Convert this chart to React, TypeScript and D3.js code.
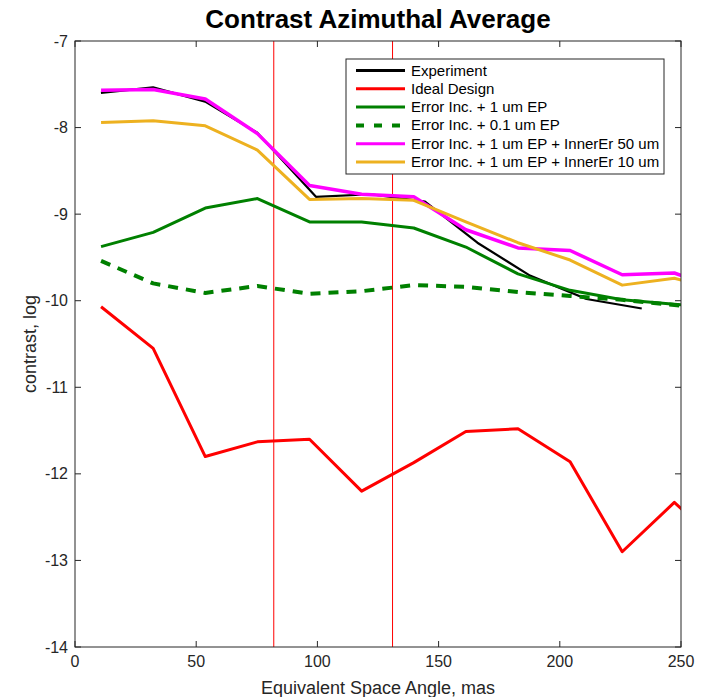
import React from "react";
import * as d3 from "d3";

const xGrid = [10.75, 32.25, 53.75, 75.25, 96.75, 118.25, 139.75, 161.25, 182.75, 204.25, 225.75, 247.25, 268.75];

const experimentX = [10.7, 32.2, 53.7, 75.2, 99.4, 122, 144.4, 166, 187.7, 211, 233.8];
const experimentY = [-7.6, -7.535, -7.7, -8.06, -8.8, -8.77, -8.855, -9.33, -9.71, -9.98, -10.09];

const idealY = [-10.07, -10.55, -11.8, -11.63, -11.6, -12.2, -11.87, -11.51, -11.48, -11.86, -12.9, -12.33, -12.88];
const err1umY = [-9.375, -9.21, -8.93, -8.82, -9.09, -9.09, -9.16, -9.38, -9.69, -9.88, -9.99, -10.04, -10.1];
const err01umY = [-9.54, -9.8, -9.91, -9.83, -9.92, -9.89, -9.82, -9.84, -9.9, -9.945, -9.99, -10.05, -10.1];
const inner50Y = [-7.57, -7.56, -7.67, -8.07, -8.67, -8.77, -8.8, -9.18, -9.39, -9.42, -9.7, -9.68, -9.9];
const inner10Y = [-7.94, -7.92, -7.98, -8.26, -8.83, -8.82, -8.84, -9.09, -9.33, -9.53, -9.82, -9.74, -9.9];

const verticalLines = [82, 131];
const xTicks = [0, 50, 100, 150, 200, 250];
const yTicks = [-7, -8, -9, -10, -11, -12, -13, -14];

const seriesNames = [
  "Experiment",
  "Ideal Design",
  "Error Inc. + 1 um EP",
  "Error Inc. + 0.1 um EP",
  "Error Inc. + 1 um EP + InnerEr 50 um",
  "Error Inc. + 1 um EP + InnerEr 10 um",
];

const W = 706, H = 697;
const L = 75, R = 681, T = 41, B = 647;
const AX = "#262626";
const FONT = "'Liberation Sans', Arial, Helvetica, sans-serif";

export default function App() {
  const x = d3.scaleLinear().domain([0, 250]).range([L, R]);
  const y = d3.scaleLinear().domain([-14, -7]).range([B, T]);
  const line = d3.line<[number, number]>().x((d) => x(d[0])).y((d) => y(d[1]));
  const zip = (xs: number[], ys: number[]) => ys.map((v, i) => [xs[i], v] as [number, number]);

  const series = [
    { name: seriesNames[0], data: zip(experimentX, experimentY), color: "#000000", w: 2.2, dash: undefined as string | undefined },
    { name: seriesNames[1], data: zip(xGrid, idealY), color: "#ff0000", w: 3, dash: undefined },
    { name: seriesNames[2], data: zip(xGrid, err1umY), color: "#008000", w: 3, dash: undefined },
    { name: seriesNames[3], data: zip(xGrid, err01umY), color: "#008000", w: 4, dash: "10,8" },
    { name: seriesNames[4], data: zip(xGrid, inner50Y), color: "#ff00ff", w: 3.5, dash: undefined },
    { name: seriesNames[5], data: zip(xGrid, inner10Y), color: "#edb120", w: 3, dash: undefined },
  ];

  const legX = 346, legY = 59, legW = 318, legH = 115;
  const rowY = (i: number) => 70.5 + i * 18.3;

  return (
    <svg width={W} height={H} style={{ display: "block", position: "absolute", left: 0, top: 0, background: "#fff" }} fontFamily={FONT}>
      <defs>
        <clipPath id="plotclip">
          <rect x={L} y={T} width={R - L} height={B - T} />
        </clipPath>
      </defs>
      <rect x={0} y={0} width={W} height={H} fill="#fff" />
      <text x={378} y={28} textAnchor="middle" fontSize={26} fontWeight="bold" fill="#000">
        Contrast Azimuthal Average
      </text>
      <g clipPath="url(#plotclip)">
        {verticalLines.map((v) => (
          <line key={v} x1={x(v)} x2={x(v)} y1={T} y2={B} stroke="#ff0000" strokeWidth={1} />
        ))}
        {series.map((s) => (
          <path key={s.name} d={line(s.data) || ""} fill="none" stroke={s.color} strokeWidth={s.w} strokeDasharray={s.dash} strokeLinejoin="round" />
        ))}
      </g>
      {/* axes box */}
      <rect x={L} y={T} width={R - L} height={B - T} fill="none" stroke={AX} strokeWidth={1} />
      {xTicks.map((t) => (
        <g key={"x" + t}>
          <line x1={x(t)} x2={x(t)} y1={B} y2={B - 6} stroke={AX} />
          <line x1={x(t)} x2={x(t)} y1={T} y2={T + 6} stroke={AX} />
          <text x={x(t)} y={B + 20} textAnchor="middle" fontSize={16} fill={AX}>{t}</text>
        </g>
      ))}
      {yTicks.map((t) => (
        <g key={"y" + t}>
          <line x1={L} x2={L + 6} y1={y(t)} y2={y(t)} stroke={AX} />
          <line x1={R} x2={R - 6} y1={y(t)} y2={y(t)} stroke={AX} />
          <text x={L - 7} y={y(t) + 5.5} textAnchor="end" fontSize={16} fill={AX}>{t}</text>
        </g>
      ))}
      <text x={378} y={694} textAnchor="middle" fontSize={18} fill={AX}>
        Equivalent Space Angle, mas
      </text>
      <text transform={`translate(36, ${(T + B) / 2}) rotate(-90)`} textAnchor="middle" fontSize={18} fill={AX}>
        contrast, log
      </text>
      {/* legend */}
      <rect x={legX} y={legY} width={legW} height={legH} fill="#fff" stroke={AX} strokeWidth={1} />
      {series.map((s, i) => (
        <g key={"leg" + i}>
          <line x1={356} x2={405} y1={rowY(i)} y2={rowY(i)} stroke={s.color} strokeWidth={s.dash ? 4 : 3} strokeDasharray={s.dash ? "8,10" : undefined} />
          <text x={411} y={rowY(i) + 5} fontSize={15} fill="#000">{s.name}</text>
        </g>
      ))}
    </svg>
  );
}
